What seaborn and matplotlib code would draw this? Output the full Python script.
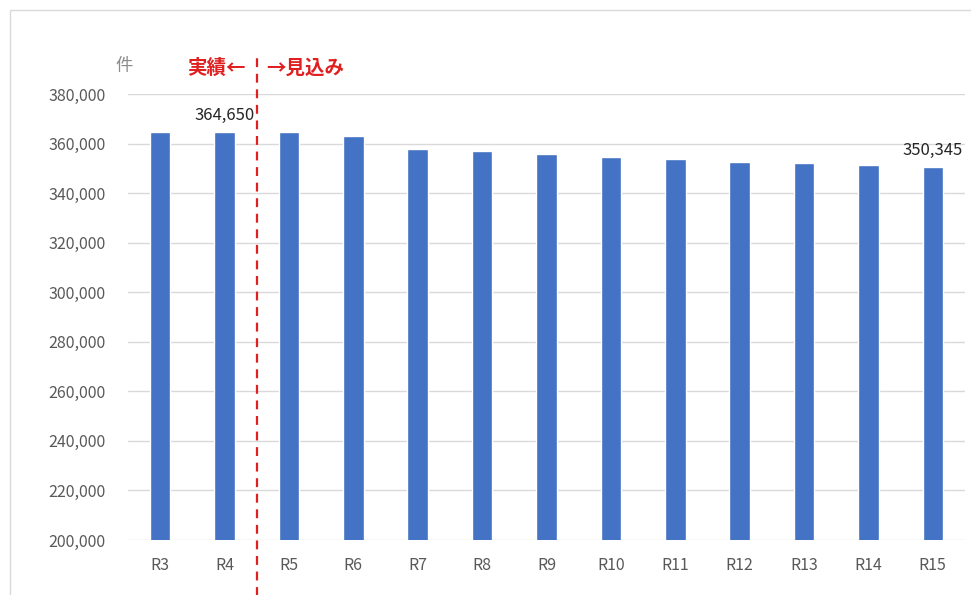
import matplotlib
matplotlib.use("Agg")
import matplotlib.pyplot as plt
import seaborn as sns
import pandas as pd
from matplotlib.patches import Rectangle

categories = ["R3", "R4", "R5", "R6", "R7", "R8", "R9", "R10", "R11", "R12", "R13", "R14", "R15"]
values = [364500, 364650, 364600, 363100, 357900, 357000, 355900, 354600, 353900, 352700, 352000, 351300, 350345]
yticks = list(range(200000, 380001, 20000))
labeled = {"R4": "364,650", "R15": "350,345"}

sns.set_theme(style="white")
plt.rcParams['font.family'] = ['Noto Sans CJK JP', 'DejaVu Sans']

df = pd.DataFrame({"year": categories, "count": values})

fig = plt.figure(figsize=(9.71, 5.95), dpi=100)
ax = fig.add_axes([128/971, 1-540/595, (965-128)/971, (540-94)/595])
sns.barplot(data=df, x="year", y="count", color="#4472C4", saturation=1, width=0.32, ax=ax, zorder=3)

ax.set_ylim(200000, 380000)
ax.set_xlim(-0.5, len(categories) - 0.5)
ax.set_yticks(yticks)
ax.set_yticklabels([f"{v:,}" for v in yticks])
ax.set_xlabel("")
ax.set_ylabel("")
ax.grid(axis="y", color="#D9D9D9", linewidth=1, zorder=0)
ax.set_axisbelow(True)
for s in ax.spines.values():
    s.set_visible(False)
ax.tick_params(axis="both", length=0, colors="#595959", labelsize=11.5)
ax.tick_params(axis="y", pad=16)
ax.tick_params(axis="x", pad=12)

for i, (c, v) in enumerate(zip(categories, values)):
    if c in labeled:
        ax.text(i, v + 3300, labeled[c], ha="center", va="bottom", fontsize=12, color="#262626", zorder=5)

# divider between actual and forecast
ax.axvline(1.5, ymin=-0.125, ymax=1.09, color="#E02020", linestyle=(0, (4, 3)), linewidth=1.6, clip_on=False, zorder=6)

fig.text(124/971, 1-66/595, "件", ha="center", va="center", fontsize=12.5, color="#8C8C8C")
fig.text(246/971, 1-68/595, "実績←", ha="right", va="center", fontsize=14, color="#E02020", fontweight="bold")
fig.text(266/971, 1-68/595, "→見込み", ha="left", va="center", fontsize=14, color="#E02020", fontweight="bold")

# outer chart frame
fig.patches.append(Rectangle((10/971, -0.1), 1.2, 1 - 10/595 + 0.1, transform=fig.transFigure,
                             fill=False, edgecolor="#D9D9D9", linewidth=1, zorder=0))

fig.savefig("out.png", dpi=100)
